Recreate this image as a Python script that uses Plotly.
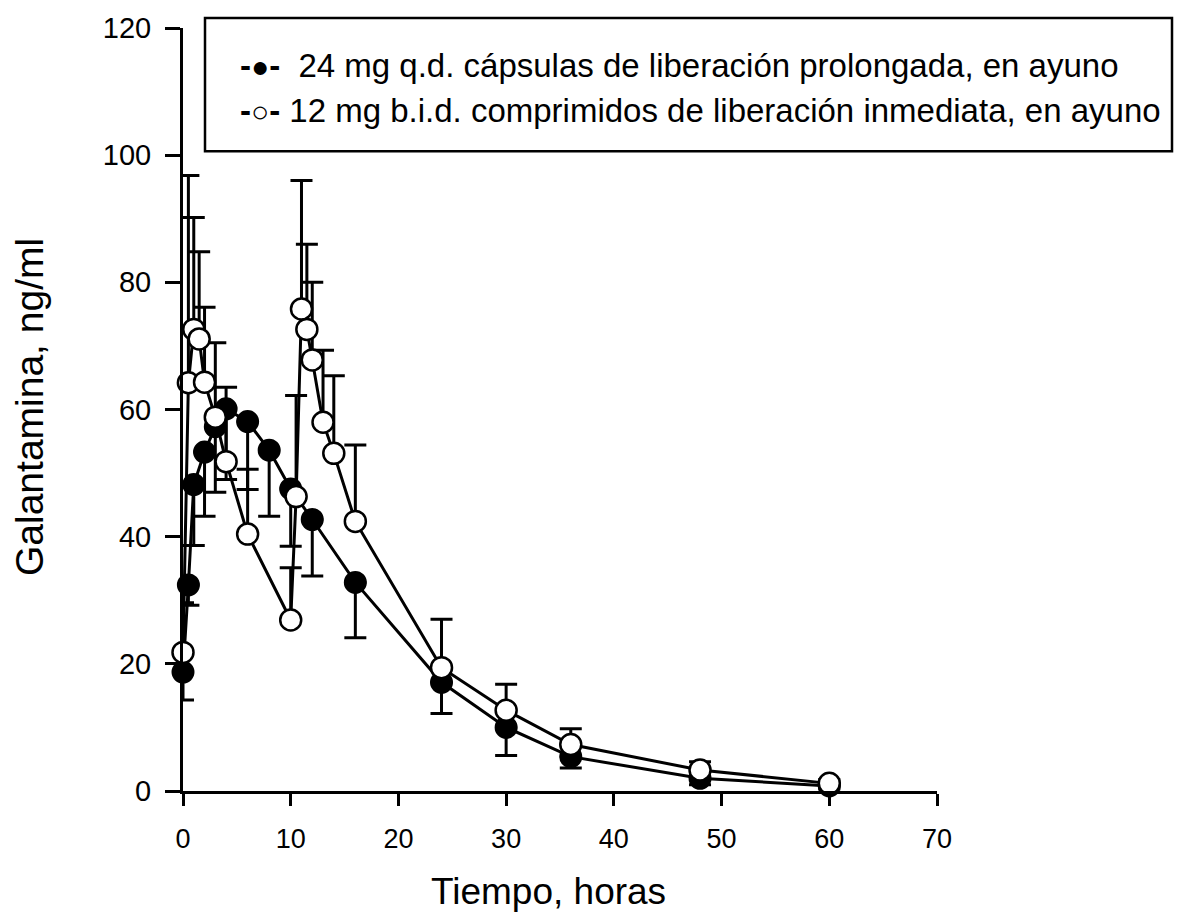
import plotly.graph_objects as go

# 24 mg q.d. prolonged-release capsules (filled circles), one-sided lower SD bars
t_er = [0, 0.5, 1, 2, 3, 4, 6, 8, 10, 12, 16, 24, 30, 36, 48, 60]
c_er = [18.7, 32.4, 48.2, 53.3, 57.3, 60.1, 58.1, 53.6, 47.5, 42.7, 32.8, 17.1, 10.0, 5.4, 2.0, 0.8]
lo_er = [14.3, 29.2, 38.6, 43.2, 47.0, 49.0, 47.4, 43.2, 38.5, 33.8, 24.1, 12.2, 5.6, 3.6, 1.0, 0.3]

# 12 mg b.i.d. immediate-release tablets (open circles), one-sided upper SD bars
t_ir = [0, 0.5, 1, 1.5, 2, 3, 4, 6, 10, 10.5, 11, 11.5, 12, 13, 14, 16, 24, 30, 36, 48, 60]
c_ir = [21.8, 64.2, 72.6, 71.1, 64.3, 58.8, 51.8, 40.4, 26.9, 46.3, 75.8, 72.6, 67.8, 58.0, 53.1, 42.4, 19.4, 12.7, 7.3, 3.3, 1.2]
hi_ir = [29.6, 96.8, 90.2, 84.8, 76.1, 70.5, 63.5, 50.6, 35.1, 62.2, 96.0, 86.0, 80.0, 69.3, 65.3, 54.4, 27.0, 16.8, 9.8, 4.6, 1.8]

x_ticks = [0, 10, 20, 30, 40, 50, 60, 70]
y_ticks = [0, 20, 40, 60, 80, 100, 120]

legend_er = "24 mg q.d. cápsulas de liberación prolongada, en ayuno"
legend_ir = "12 mg b.i.d. comprimidos de liberación inmediata, en ayuno"
x_title = "Tiempo, horas"
y_title = "Galantamina, ng/ml"

minus_er = [c - l for c, l in zip(c_er, lo_er)]
plus_ir = [h - c for c, h in zip(c_ir, hi_ir)]

fig = go.Figure()
fig.add_trace(go.Scatter(
    x=t_er, y=c_er, mode="lines+markers", cliponaxis=False,
    line=dict(color="black", width=3),
    marker=dict(symbol="circle", size=21, color="black", line=dict(color="black", width=2)),
    error_y=dict(type="data", symmetric=False, array=[0] * len(t_er), arrayminus=minus_er,
                 color="black", thickness=3, width=11),
    showlegend=False,
))
fig.add_trace(go.Scatter(
    x=t_ir, y=c_ir, mode="lines+markers", cliponaxis=False,
    line=dict(color="black", width=3),
    marker=dict(symbol="circle", size=21, color="white", line=dict(color="black", width=2.5)),
    error_y=dict(type="data", symmetric=False, array=plus_ir, arrayminus=[0] * len(t_ir),
                 color="black", thickness=3, width=11),
    showlegend=False,
))

fig.update_xaxes(
    range=[0, 70], tickvals=x_ticks, ticktext=[str(v) for v in x_ticks],
    showline=True, linecolor="black", linewidth=3,
    ticks="outside", ticklen=12, tickwidth=2.5, tickcolor="black",
    showgrid=False, zeroline=False,
    tickfont=dict(family="Liberation Sans, Arial, sans-serif", size=27, color="black"),
    ticklabelstandoff=10,
)
fig.update_yaxes(
    range=[0, 120], tickvals=y_ticks, ticktext=[str(v) for v in y_ticks],
    showline=True, linecolor="black", linewidth=3,
    ticks="outside", ticklen=15, tickwidth=2.5, tickcolor="black",
    showgrid=False, zeroline=False,
    tickfont=dict(family="Liberation Sans, Arial, sans-serif", size=29, color="black"),
    ticklabelstandoff=8,
)

# legend box
fig.add_shape(type="rect", xref="paper", yref="paper",
              x0=(205 - 183) / 754, x1=(1172 - 183) / 754,
              y0=(791 - 148) / 767, y1=(791 - 14) / 767,
              line=dict(color="black", width=2.5), fillcolor="white", layer="above")

leg_font = dict(family="Liberation Sans, Arial, sans-serif", size=33, color="black")
fig.add_annotation(xref="paper", yref="paper", x=(238 - 183) / 754, y=(791 - 62) / 767,
                   xanchor="left", yanchor="middle", showarrow=False, font=leg_font,
                   text="<b>-</b><span style='font-size:30px'>●</span><b>-</b>\u00a0\u00a0" + legend_er)
fig.add_annotation(xref="paper", yref="paper", x=(238 - 183) / 754, y=(791 - 107) / 767,
                   xanchor="left", yanchor="middle", showarrow=False, font=leg_font,
                   text="<b>-</b><span style='font-size:30px'>○</span><b>-</b>\u00a0" + legend_ir)

fig.add_annotation(xref="paper", yref="paper", x=(548 - 183) / 754, y=(791 - 892) / 767,
                   xanchor="center", yanchor="middle", showarrow=False,
                   font=dict(family="Liberation Sans, Arial, sans-serif", size=37, color="black"),
                   text=x_title)
fig.add_annotation(xref="paper", yref="paper", x=(29 - 183) / 754, y=(791 - 405) / 767,
                   xanchor="center", yanchor="middle", showarrow=False,
                   font=dict(family="Liberation Sans, Arial, sans-serif", size=39, color="black"),
                   textangle=-90, text=y_title)

fig.update_layout(
    width=1190, height=912,
    margin=dict(l=183, r=253, t=24, b=121),
    paper_bgcolor="white", plot_bgcolor="white",
)

fig.write_html("out.html", config={"displayModeBar": False},
               post_script="document.body.style.margin='0px';document.body.style.overflow='hidden';")
